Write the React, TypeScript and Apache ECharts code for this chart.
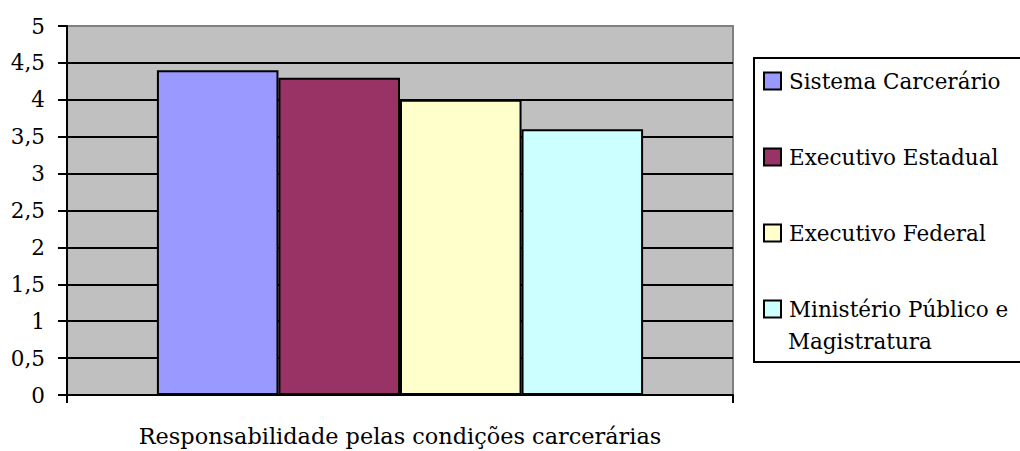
import React, { useEffect, useRef } from "react";
import * as echarts from "echarts";

const categories = ["Responsabilidade pelas condições carcerárias"];
const seriesNames = [
  "Sistema Carcerário",
  "Executivo Estadual",
  "Executivo Federal",
  "Ministério Público e Magistratura",
];
const legendLabels = ["Sistema Carcerário", "Executivo Estadual", "Executivo Federal", "Ministério Público e"];
const legendContinuation = "Magistratura";
const seriesValues = [[4.4], [4.3], [4.0], [3.6]];
const seriesColors = ["#9999FF", "#993366", "#FFFFCC", "#CCFFFF"];
const yTicks = [0, 0.5, 1, 1.5, 2, 2.5, 3, 3.5, 4, 4.5, 5];

const FONT = "DejaVu Serif";
const FS = 21.5;

export default function App() {
  const ref = useRef<HTMLDivElement>(null);
  useEffect(() => {
    if (!ref.current) return;
    const chart = echarts.init(ref.current, null, { renderer: "svg" });
    chart.setOption({
      animation: false,
      backgroundColor: "#FFFFFF",
      textStyle: { fontFamily: FONT },
      grid: {
        left: 67,
        right: 287,
        top: 26,
        bottom: 56,
        outerBoundsMode: "none",
        containLabel: false,
        show: true,
        backgroundColor: "#C0C0C0",
        borderColor: "#808080",
        borderWidth: 2,
      },
      graphic: [
        {
          type: "rect",
          z: -1,
          shape: { x: 754, y: 58, width: 400, height: 304 },
          style: { fill: "#FFFFFF", stroke: "#000000", lineWidth: 2 },
        },
        {
          type: "text",
          x: 788,
          y: 341,
          style: {
            text: legendContinuation,
            font: `${FS}px "DejaVu Serif"`,
            fill: "#000",
            verticalAlign: "middle",
          },
        },
      ],
      legend: {
        orient: "vertical",
        left: 763,
        top: 65,
        padding: 0,
        itemWidth: 17,
        itemHeight: 17,
        itemGap: 44,
        icon: "rect",
        itemStyle: { borderColor: "#000", borderWidth: 2 },
        textStyle: { fontFamily: FONT, fontSize: FS, color: "#000", lineHeight: 32, padding: [0, 0, 0, 3] },
        data: seriesNames,
        formatter: (name: string) => legendLabels[seriesNames.indexOf(name)],
      },
      xAxis: {
        type: "category",
        data: categories,
        name: categories[0],
        nameLocation: "middle",
        nameGap: 30,
        nameTextStyle: { fontFamily: FONT, fontSize: 22.4, color: "#000" },
        axisLine: { show: true, lineStyle: { color: "#000", width: 2 } },
        axisTick: { show: true, length: 8, lineStyle: { color: "#000", width: 2 } },
        axisLabel: { show: false },
      },
      yAxis: {
        type: "value",
        min: 0,
        max: 5,
        interval: 0.5,
        axisLine: { show: true, lineStyle: { color: "#000", width: 2 } },
        axisTick: { show: true, length: 9, lineStyle: { color: "#000", width: 2 } },
        axisLabel: {
          fontFamily: FONT,
          fontSize: FS,
          color: "#000",
          margin: 22,
          formatter: (v: number) => (yTicks.includes(v) ? String(v).replace(".", ",") : ""),
        },
        splitLine: { show: true, showMaxLine: false, lineStyle: { color: "#000", width: 2 } },
      },
      series: seriesNames.map((name, i) => ({
        type: "bar",
        name,
        data: seriesValues[i],
        barGap: "0%",
        barCategoryGap: "27%",
        itemStyle: { color: seriesColors[i], borderColor: "#000", borderWidth: 2 },
      })),
    });
    return () => chart.dispose();
  }, []);
  return (
    <div
      ref={ref}
      style={{ position: "fixed", left: 0, top: 0, width: 1020, height: 451, overflow: "hidden" }}
    />
  );
}
